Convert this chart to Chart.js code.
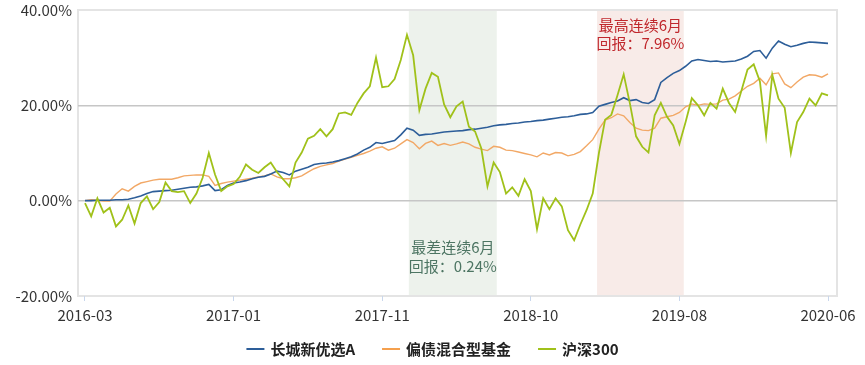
<!DOCTYPE html>
<html>
<head>
<meta charset="utf-8">
<script src="https://cdn.jsdelivr.net/npm/chart.js@4.4.1/dist/chart.umd.min.js"></script>
<style>
  html, body { margin: 0; padding: 0; background: #fff; }
  #wrap { width: 865px; height: 365px; }
</style>
</head>
<body>
<div id="wrap"><canvas id="chart" width="865" height="365"></canvas></div>
<script>
// series names
const seriesNames = ['长城新优选A', '偏债混合型基金', '沪深300'];

// cumulative return (%), one point every ~1/24 of the tick spacing
const fundValues = [
  0, 0.0, 0.1, 0.1, 0.1, 0.2, 0.2, 0.3, 0.6, 1.0,
  1.5, 1.9, 2.0, 2.1, 2.2, 2.4, 2.6, 2.8, 2.9, 3.1,
  3.4, 2.1, 2.3, 3.2, 3.7, 3.9, 4.2, 4.6, 4.9, 5.1,
  5.6, 6.2, 5.9, 5.4, 6.2, 6.6, 7.0, 7.6, 7.8, 7.9,
  8.1, 8.4, 8.8, 9.2, 9.8, 10.6, 11.2, 12.2, 12.0, 12.3,
  12.6, 13.8, 15.2, 14.8, 13.7, 13.9, 14.0, 14.2, 14.4, 14.5,
  14.6, 14.7, 14.9, 15.0, 15.2, 15.4, 15.7, 15.9, 16.0, 16.2,
  16.3, 16.5, 16.6, 16.8, 16.9, 17.1, 17.3, 17.5, 17.6, 17.8,
  18.1, 18.2, 18.5, 19.8, 20.2, 20.6, 20.9, 21.6, 21.0, 21.2,
  20.6, 20.4, 21.2, 24.8, 25.8, 26.7, 27.3, 28.2, 29.3, 29.6,
  29.4, 29.2, 29.3, 29.1, 29.2, 29.3, 29.7, 30.3, 31.3, 31.5,
  29.9, 32.0, 33.5, 32.8, 32.3, 32.6, 33.0, 33.3, 33.2, 33.1,
  33.0
];
const mixedValues = [
  0, 0.2, 0.1, -0.1, -0.1, 1.4, 2.5, 2.0, 3.0, 3.7,
  4.0, 4.3, 4.5, 4.5, 4.5, 4.8, 5.2, 5.3, 5.4, 5.4,
  5.1, 3.2, 3.6, 3.9, 4.1, 4.3, 4.5, 4.7, 5.0, 5.2,
  5.6, 5.0, 4.6, 4.6, 4.8, 5.2, 6.0, 6.7, 7.2, 7.5,
  7.8, 8.3, 8.7, 9.1, 9.5, 9.9, 10.4, 11.0, 11.3, 10.6,
  11.0, 11.9, 12.8, 12.2, 10.9, 12.0, 12.5, 11.6, 12.0, 11.6,
  11.9, 12.3, 11.9, 11.2, 10.8, 10.5, 11.4, 11.2, 10.6, 10.5,
  10.2, 9.9, 9.6, 9.2, 10.0, 9.6, 10.1, 10.0, 9.4, 9.7,
  10.3, 11.5, 12.8, 15.0, 16.9, 17.4, 18.2, 17.8, 16.4, 15.2,
  14.8, 14.7, 15.2, 17.3, 17.6, 17.9, 18.5, 19.7, 20.3, 20.0,
  20.3, 20.2, 20.3, 21.1, 21.3, 22.0, 23.0, 24.0, 24.6, 25.7,
  24.3, 26.6, 26.8, 24.5, 23.7, 24.9, 25.9, 26.4, 26.3, 25.9,
  26.6
];
const hs300Values = [
  -0.5, -3.3, 0.5, -2.5, -1.5, -5.4, -4.0, -1.0, -4.8, -0.5,
  0.9, -1.8, -0.3, 3.8, 2.0, 1.8, 2.0, -0.5, 1.5, 4.8,
  10.0, 5.5, 2.0, 3.0, 3.5, 5.0, 7.6, 6.5, 5.8, 7.0,
  8.0, 6.0, 4.5, 3.0, 8.0, 10.1, 13.0, 13.6, 15.0, 13.5,
  15.0, 18.3, 18.5, 18.0, 20.5, 22.5, 24.0, 30.0, 23.8, 24.0,
  25.5, 29.5, 34.8, 30.5, 19.0, 23.5, 26.8, 26.0, 20.2, 17.5,
  19.8, 20.8, 15.5, 14.5, 11.0, 3.0, 8.0, 6.0, 1.5, 2.8,
  1.0, 4.5, 2.0, -6.0, 0.5, -1.8, 0.5, -1.2, -6.2, -8.3,
  -5.0, -2.0, 1.5, 10.0, 17.0, 18.0, 22.1, 26.5, 20.4, 13.5,
  11.3, 10.1, 17.9, 20.5, 17.6, 15.8, 11.9, 16.5, 21.5, 20.0,
  17.9, 20.5, 19.3, 23.5, 20.5, 18.6, 23.0, 27.5, 28.6, 25.0,
  13.6, 26.4, 21.4, 19.5, 10.0, 16.5, 18.6, 21.4, 20.0, 22.5,
  22.1
];

// x axis labels, one every tickStep points
const tickLabels = ['2016-03', '2017-01', '2017-11', '2018-10', '2019-08', '2020-06'];
const tickStep = 24;

// shaded 6-month windows (point index range) and their notes
const worstBand = [52.3, 66.5];
const bestBand = [82.7, 96.7];
const worstText = ['最差连续6月', '回报：0.24%'];
const bestText = ['最高连续6月', '回报：7.96%'];

const colors = ['#2d5e99', '#f2a866', '#a0c11a'];
const legendColors = ['#2d5e99', '#f5a04e', '#a0c11a'];
const FONT = '"Noto Sans CJK SC", "Noto Sans", sans-serif';

const toPoints = arr => arr.map((v, i) => ({ x: i, y: v }));

const bandsPlugin = {
  id: 'bands',
  beforeDraw(chart) {
    const { ctx, chartArea: a, scales: { x } } = chart;
    ctx.save();
    ctx.fillStyle = '#edf2ec';
    let x0 = x.getPixelForValue(worstBand[0]), x1 = x.getPixelForValue(worstBand[1]);
    ctx.fillRect(x0, a.top, x1 - x0, a.bottom - a.top);
    ctx.fillStyle = '#f8ebe8';
    x0 = x.getPixelForValue(bestBand[0]); x1 = x.getPixelForValue(bestBand[1]);
    ctx.fillRect(x0, a.top, x1 - x0, a.bottom - a.top);
    // frame
    ctx.strokeStyle = '#e4e4e4';
    ctx.lineWidth = 2;
    ctx.strokeRect(a.left, a.top, a.right - a.left, a.bottom - a.top);
    ctx.restore();
  },
  afterDatasetsDraw(chart) {
    const { ctx, chartArea: a, scales: { x } } = chart;
    ctx.save();
    ctx.font = '15px ' + FONT;
    ctx.textAlign = 'center';
    ctx.textBaseline = 'middle';
    let cx = (x.getPixelForValue(worstBand[0]) + x.getPixelForValue(worstBand[1])) / 2;
    ctx.fillStyle = '#4d7563';
    ctx.fillText(worstText[0], cx, a.bottom - 49);
    ctx.fillText(worstText[1], cx, a.bottom - 30);
    cx = (x.getPixelForValue(bestBand[0]) + x.getPixelForValue(bestBand[1])) / 2;
    ctx.fillStyle = '#c0282d';
    ctx.fillText(bestText[0], cx, a.top + 15);
    ctx.fillText(bestText[1], cx, a.top + 33);
    ctx.restore();
  },
  afterDraw(chart) {
    // legend
    const ctx = chart.ctx;
    ctx.save();
    ctx.font = 'bold 15px ' + FONT;
    const mark = 18, gapText = 6, gapItem = 27;
    const widths = seriesNames.map(n => mark + gapText + ctx.measureText(n).width);
    const total = widths.reduce((s, w) => s + w, 0) + gapItem * (widths.length - 1);
    let lx = chart.width / 2 - total / 2;
    const ly = 349;
    ctx.textBaseline = 'middle';
    seriesNames.forEach((n, i) => {
      ctx.strokeStyle = legendColors[i];
      ctx.lineWidth = 2;
      ctx.beginPath();
      ctx.moveTo(lx, ly);
      ctx.lineTo(lx + mark, ly);
      ctx.stroke();
      ctx.fillStyle = '#222';
      ctx.fillText(n, lx + mark + gapText, ly);
      lx += widths[i] + gapItem;
    });
    ctx.restore();
  }
};

new Chart(document.getElementById('chart'), {
  type: 'line',
  data: {
    datasets: [
      { label: seriesNames[0], data: toPoints(fundValues), borderColor: colors[0], borderWidth: 1.6, order: 1 },
      { label: seriesNames[1], data: toPoints(mixedValues), borderColor: colors[1], borderWidth: 1.4, order: 2 },
      { label: seriesNames[2], data: toPoints(hs300Values), borderColor: colors[2], borderWidth: 1.8, order: 0 }
    ]
  },
  options: {
    responsive: false,
    animation: false,
    devicePixelRatio: 1,
    elements: { point: { radius: 0 }, line: { tension: 0 } },
    layout: { autoPadding: false, padding: { left: 0, right: 28, top: 10, bottom: 0 } },
    plugins: { legend: { display: false }, tooltip: { enabled: false } },
    scales: {
      x: {
        type: 'linear',
        min: -1.13,
        max: 121.45,
        afterFit: s => { s.height = 69; s.paddingLeft = 0; s.paddingRight = 0; },
        afterBuildTicks: s => { s.ticks = tickLabels.map((t, i) => ({ value: i * tickStep })); },
        border: { display: false },
        grid: { drawOnChartArea: false, drawTicks: true, tickLength: 5, color: '#c9d7ec' },
        ticks: {
          autoSkip: false,
          maxRotation: 0,
          padding: 5,
          color: '#333',
          font: { family: FONT, size: 15 },
          callback: v => tickLabels[Math.round(v / tickStep)]
        }
      },
      y: {
        min: -20,
        max: 40,
        afterFit: s => { s.width = 78; s.paddingTop = 0; s.paddingBottom = 0; },
        border: { display: false },
        grid: {
          drawTicks: false,
          color: c => (c.tick.value === 40 || c.tick.value === -20) ? 'rgba(0,0,0,0)' : '#c6c6c6',
          lineWidth: 1.5
        },
        ticks: {
          stepSize: 20,
          padding: 6,
          color: '#333',
          font: { family: FONT, size: 15 },
          callback: v => v.toFixed(2) + '%'
        }
      }
    }
  },
  plugins: [bandsPlugin]
});
</script>
</body>
</html>
